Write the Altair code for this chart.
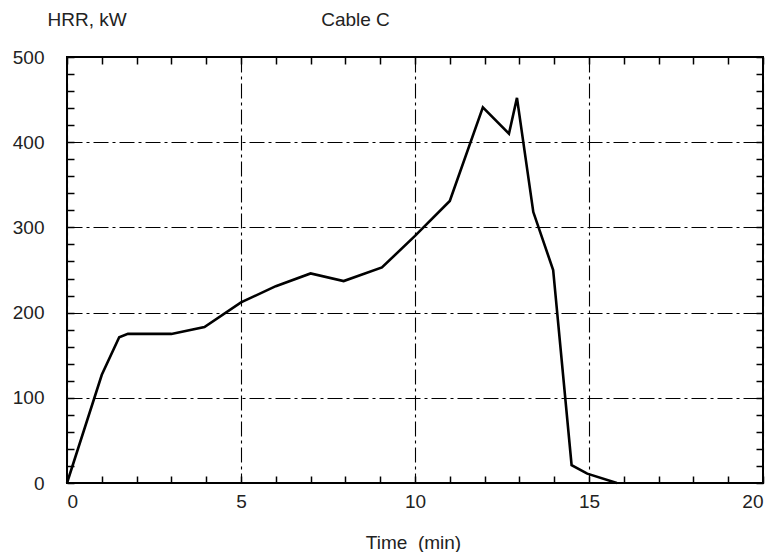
import altair as alt
import pandas as pd

time_min = [0, 1.0, 1.5, 1.75, 3.0, 3.95, 5.0, 6.0, 7.0, 7.95, 9.05, 10.0, 11.0, 11.95, 12.7, 12.93, 13.4, 13.97, 14.5, 14.95, 15.8]
hrr_kw = [0, 127, 171, 175, 175, 183, 212, 231, 246, 237, 253, 290, 331, 441, 410, 452, 318, 250, 21, 11, 0]

x_major = [0, 5, 10, 15, 20]
x_minor = list(range(0, 21))
y_major = [0, 100, 200, 300, 400, 500]
y_minor = list(range(0, 501, 20))

df = pd.DataFrame({"t": time_min, "q": hrr_kw})

W, H = 696, 426
FONT = "Liberation Sans"
FS = 19
TXT = "#222"

xs = alt.Scale(domain=[0, 20], nice=False, zero=False)
ys = alt.Scale(domain=[0, 500], nice=False)

base = alt.Chart(df)

grid_style = dict(grid=True, gridColor="black", gridDash=[15, 4, 3, 4], gridWidth=1.1,
                  gridOpacity=1, ticks=False, domain=False)

main = base.mark_line(color="black", strokeWidth=2.6).encode(
    x=alt.X("t:Q", scale=xs, axis=alt.Axis(
        orient="bottom", values=x_major, format="d",
        labelFont=FONT, labelFontSize=FS, labelColor=TXT, labelPadding=9,
        title="Time\u00a0 (min)", titleFont=FONT, titleFontSize=FS, titleFontWeight="normal",
        titleColor=TXT, titleY=65, titleX=346, titleBaseline="alphabetic", **grid_style)),
    y=alt.Y("q:Q", scale=ys, axis=alt.Axis(
        orient="left", values=y_major, format="d",
        labelFont=FONT, labelFontSize=FS, labelColor=TXT, labelPadding=23,
        title="HRR, kW", titleFont=FONT, titleFontSize=FS, titleFontWeight="normal",
        titleColor=TXT, titleAngle=0, titleAlign="left", titleBaseline="alphabetic",
        titleX=-20, titleY=-32, **grid_style)),
)

tick_style = dict(labels=False, grid=False, domain=False, tickColor="black",
                  tickWidth=1.5, tickSize=7)

# inward ticks: bottom edge (pointing up) and left edge (pointing right)
ticks1 = base.mark_line(opacity=0).encode(
    x=alt.X("t:Q", scale=xs, axis=alt.Axis(orient="top", offset=-H, values=x_minor,
                                           title=None, **tick_style)),
    y=alt.Y("q:Q", scale=ys, axis=alt.Axis(orient="right", offset=-W, values=y_minor,
                                           title=None, **tick_style)),
)

# inward ticks: top edge (pointing down) and right edge (pointing left); top title
ticks2 = base.mark_line(opacity=0).encode(
    x=alt.X("t:Q", scale=xs, axis=alt.Axis(
        orient="bottom", offset=-H, values=x_minor, title="Cable C",
        titleFont=FONT, titleFontSize=FS, titleFontWeight="normal", titleColor=TXT,
        titleX=288, titleY=-32, titleBaseline="alphabetic", titleAlign="center",
        **tick_style)),
    y=alt.Y("q:Q", scale=ys, axis=alt.Axis(orient="left", offset=-W, values=y_minor,
                                           title=None, **tick_style)),
)

chart = alt.layer(main, ticks1, ticks2).resolve_axis(
    x="independent", y="independent"
).properties(
    width=W, height=H,
    autosize=alt.AutoSizeParams(type="none"),
    padding={"left": 67, "top": 57, "right": 5, "bottom": 69},
    background="white",
).configure_view(stroke="black", strokeWidth=2)

chart.save("out.html", embed_options={"renderer": "svg", "actions": False})
